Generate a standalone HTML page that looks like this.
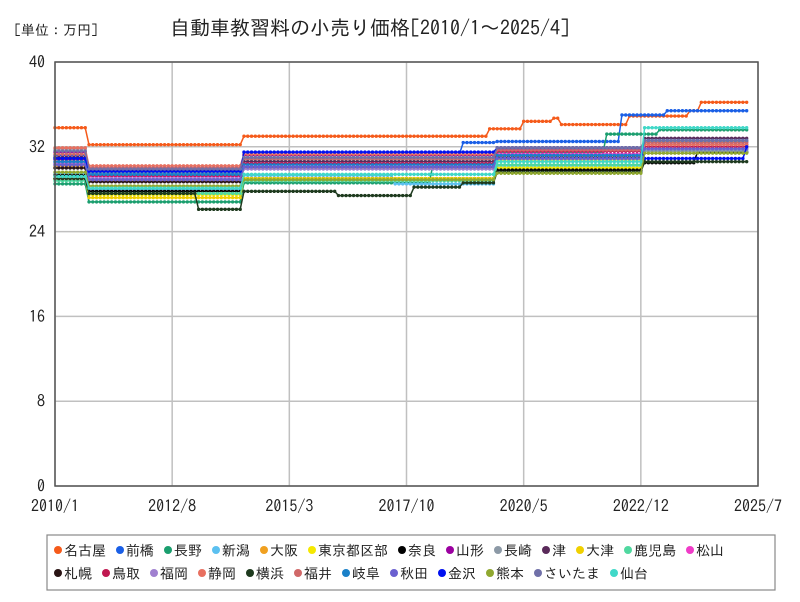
<!DOCTYPE html>
<html><head><meta charset="utf-8"><style>
body{margin:0;background:#fff;width:800px;height:600px;overflow:hidden;font-family:"IPAGothic","Noto Sans CJK JP",sans-serif}
</style></head><body>
<svg id="c" width="800" height="600" xmlns="http://www.w3.org/2000/svg" font-family="IPAGothic, Noto Sans CJK JP, sans-serif">
<text x="14" y="35" font-size="14" fill="#222">[単位：万円]</text>
<text x="170" y="35" font-size="20" fill="#222">自動車教習料の小売り価格[2010/1～2025/4]</text>
<g id="grid"></g><g id="series"></g>
<rect x="55" y="62" width="703" height="424" fill="none" stroke="#555" stroke-width="1.5"/>
<g id="axes"></g>
<rect x="47" y="535" width="728" height="55" fill="#fff" stroke="#888" stroke-width="1.2"/>
<g id="legend"></g>
</svg>
<script>
const xTickLabels=["2010/1","2012/8","2015/3","2017/10","2020/5","2022/12","2025/7"];
const xTickMonths=[0,31,62,93,124,155,186];
const yTickValues=[0,8,16,24,32,40];
const seriesNames=["名古屋","前橋","長野","新潟","大阪","東京都区部","奈良","山形","長崎","津","大津","鹿児島","松山","札幌","鳥取","福岡","静岡","横浜","福井","岐阜","秋田","金沢","熊本","さいたま","仙台"];
const seriesColors=["#f55a1a","#1a5fe6","#1a9e6e","#5bc0f0","#f0a020","#f5e800","#000000","#9b00a0","#8c99a6","#5a2a5a","#f0d000","#50d8a0","#f03cc8","#2a1414","#c01850","#a080d0","#e87060","#1e3a1e","#d06868","#1a80c8","#6a60d0","#0010f0","#90a830","#7070a8","#40d8c8"];
// run-length values: [price, until-month-index]
const seriesRuns=[
[[33.8,9],[32.2,50],[33.0,115],[33.7,124],[34.4,132],[34.7,134],[34.1,152],[34.9,168],[35.4,171],[36.2,184]],
[[31.2,9],[29.6,50],[31.3,108],[32.4,117],[32.5,150],[35.0,162],[35.4,184]],
[[28.5,9],[26.8,50],[28.6,100],[30.3,117],[31.5,146],[33.2,160],[33.6,184]],
[[29.5,9],[28.0,50],[29.3,90],[28.5,117],[30.2,156],[31.6,184]],
[[30.2,9],[28.8,50],[30.0,117],[30.8,156],[32.0,184]],
[[29.0,9],[27.5,50],[29.0,117],[30.0,156],[31.8,184]],
[[29.3,9],[27.8,50],[29.0,117],[29.8,156],[30.5,170],[31.5,184]],
[[31.5,9],[30.0,50],[31.2,117],[31.8,156],[32.5,184]],
[[31.8,9],[29.5,50],[30.8,117],[31.6,184]],
[[31.0,9],[29.8,50],[30.6,117],[31.3,156],[32.8,184]],
[[29.0,9],[27.2,50],[29.0,117],[30.8,156],[32.5,184]],
[[28.8,9],[27.6,50],[28.8,117],[30.3,156],[31.8,184]],
[[30.4,9],[29.2,50],[30.4,117],[31.3,156],[32.4,184]],
[[30.0,9],[28.7,50],[30.1,117],[31.0,156],[32.2,184]],
[[30.8,9],[29.3,50],[30.4,117],[31.6,156],[32.0,184]],
[[30.5,9],[29.0,50],[29.9,117],[30.9,156],[32.2,184]],
[[31.9,9],[30.2,50],[31.3,117],[31.9,156],[32.2,184]],
[[29.0,9],[27.6,38],[26.1,50],[27.8,75],[27.4,95],[28.2,108],[28.6,117],[29.6,156],[30.6,184]],
[[31.3,9],[30.0,50],[30.9,117],[31.7,156],[32.4,184]],
[[30.6,9],[29.4,50],[30.3,117],[31.2,156],[32.6,184]],
[[30.3,9],[28.9,50],[30.1,117],[30.9,156],[31.8,184]],
[[30.9,9],[29.7,50],[31.5,117],[31.9,156],[30.9,183],[32.0,184]],
[[29.6,9],[28.3,50],[28.9,117],[29.5,156],[31.4,184]],
[[31.6,9],[29.9,50],[31.0,117],[31.9,156],[32.6,184]],
[[29.2,9],[28.1,50],[29.4,117],[30.6,156],[33.8,184]]
];
const NS="http://www.w3.org/2000/svg";
const X0=55,X1=758,Y0=486,Y1=62;
function xs(m){return X0+m*(X1-X0)/186;}
function ys(v){return Y0-v*(Y0-Y1)/40;}
function mk(t,a,p){const e=document.createElementNS(NS,t);for(const k in a)e.setAttribute(k,a[k]);p.appendChild(e);return e;}
const grid=document.getElementById('grid'),axes=document.getElementById('axes');
yTickValues.forEach(v=>{
 const l=mk('line',{x1:X0,x2:X1,y1:ys(v),y2:ys(v),stroke:'#c0c0c0','stroke-width':1.5},grid);
 
 
 const t=mk('text',{x:X0-10,y:ys(v)+6,'font-size':16,'text-anchor':'end',fill:'#222'},axes);
 t.textContent=v;
 
 
});
xTickMonths.forEach((m,i)=>{
 const l=mk('line',{x1:xs(m),x2:xs(m),y1:Y1,y2:Y0,stroke:'#c0c0c0','stroke-width':1.5},grid);
 
 
 const t=mk('text',{x:xs(m),y:Y0+26,'font-size':16,'text-anchor':'middle',fill:'#222'},axes);
 t.textContent=xTickLabels[i];
 
 
});
const sg=document.getElementById('series');
seriesRuns.forEach((runs,si)=>{
 const vals=[];let m=0;
 runs.forEach(r=>{while(m<r[1]){vals.push(r[0]);m++;}});
 const g=mk('g',{},sg);
 
 
 const pts=vals.map((v,i)=>xs(i).toFixed(1)+','+ys(v).toFixed(1)).join(' ');
 mk('polyline',{points:pts,fill:'none',stroke:seriesColors[si],'stroke-width':1.5},g);
 vals.forEach((v,i)=>{const c=mk('circle',{cx:xs(i),cy:ys(v),r:1.7,fill:seriesColors[si]},g);
 
 });
});
const lg=document.getElementById('legend');
const row1=13;let x=53;
seriesNames.forEach((n,i)=>{
 const row=i<row1?0:1;if(i===row1)x=53;
 const y=row?573:550;
 const g=mk('g',{},lg);
 
 
 mk('circle',{cx:x+5,cy:y,r:4,fill:seriesColors[i]},g);
 const t=mk('text',{x:x+11,y:y+5.5,'font-size':14,fill:'#222'},g);
 t.textContent=n;
 x+=11+n.length*14+9;
});
</script>
</body></html>
